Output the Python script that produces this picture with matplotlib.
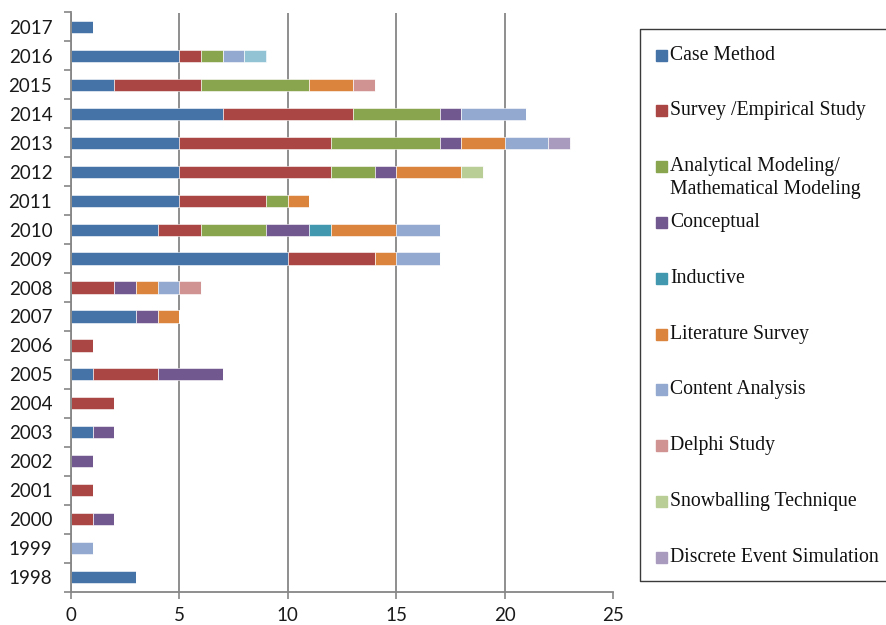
import matplotlib
matplotlib.use("Agg")
import numpy as np
import matplotlib.pyplot as plt
from matplotlib.patches import Rectangle
from matplotlib.lines import Line2D

years = [str(y) for y in range(1998, 2018)]

# one value per year, 1998 .. 2017
case_method = [3, 0, 0, 0, 0, 1, 0, 1, 0, 3, 0, 10, 4, 5, 5, 5, 7, 2, 5, 1]
survey = [0, 0, 1, 1, 0, 0, 2, 3, 1, 0, 2, 4, 2, 4, 7, 7, 6, 4, 1, 0]
analytical = [0, 0, 0, 0, 0, 0, 0, 0, 0, 0, 0, 0, 3, 1, 2, 5, 4, 5, 1, 0]
conceptual = [0, 0, 1, 0, 1, 1, 0, 3, 0, 1, 1, 0, 2, 0, 1, 1, 1, 0, 0, 0]
inductive = [0, 0, 0, 0, 0, 0, 0, 0, 0, 0, 0, 0, 1, 0, 0, 0, 0, 0, 0, 0]
literature = [0, 0, 0, 0, 0, 0, 0, 0, 0, 1, 1, 1, 3, 1, 3, 2, 0, 2, 0, 0]
content = [0, 1, 0, 0, 0, 0, 0, 0, 0, 0, 1, 2, 2, 0, 0, 2, 3, 0, 1, 0]
delphi = [0, 0, 0, 0, 0, 0, 0, 0, 0, 0, 1, 0, 0, 0, 0, 0, 0, 1, 0, 0]
snowballing = [0, 0, 0, 0, 0, 0, 0, 0, 0, 0, 0, 0, 0, 0, 1, 0, 0, 0, 0, 0]
discrete = [0, 0, 0, 0, 0, 0, 0, 0, 0, 0, 0, 0, 0, 0, 0, 1, 0, 0, 0, 0]
other = [0, 0, 0, 0, 0, 0, 0, 0, 0, 0, 0, 0, 0, 0, 0, 0, 0, 0, 1, 0]  # no legend entry

series = [case_method, survey, analytical, conceptual, inductive,
          literature, content, delphi, snowballing, discrete, other]
labels = ["Case Method", "Survey /Empirical Study",
          "Analytical Modeling/\nMathematical Modeling", "Conceptual",
          "Inductive", "Literature Survey", "Content Analysis",
          "Delphi Study", "Snowballing Technique", "Discrete Event Simulation"]
colors = ["#4572A7", "#AA4643", "#89A54E", "#71588F", "#4198AF",
          "#DB843D", "#93A9CF", "#D19392", "#B9CD96", "#A99BBD", "#92C3D4"]

W, H = 887, 625
fig = plt.figure(figsize=(W / 100, H / 100), dpi=100)
ax = fig.add_axes([71 / W, 1 - 591.5 / H, (613 - 71) / W, (591.5 - 12.5) / H])

y = np.arange(len(years))
left = np.zeros(len(years))
for vals, col in zip(series, colors):
    v = np.array(vals, dtype=float)
    ax.barh(y, v, left=left, height=0.42, color=col,
            edgecolor="white", linewidth=0.4)
    left += v

ax.set_xlim(0, 25)
ax.set_ylim(-0.5, len(years) - 0.5)
ax.set_xticks(range(0, 26, 5))
ax.set_yticks(y)
ax.set_yticklabels(years)
ax.set_yticks(np.arange(-0.5, len(years), 1), minor=True)
ax.tick_params(axis="y", which="major", length=0, pad=13.5)
ax.tick_params(axis="y", which="minor", length=5, color="#868686", width=1.2)
ax.tick_params(axis="x", length=5, color="#868686", width=1.2, pad=6)
for lab in ax.get_xticklabels() + ax.get_yticklabels():
    lab.set_fontfamily("Lato")
    lab.set_fontsize(13.5)
    lab.set_color("#1a1a1a")

ax.grid(axis="x", color="#868686", linewidth=1.3)
ax.xaxis.get_gridlines()[-1].set_visible(False)
ax.set_axisbelow(True)
for s in ["top", "right"]:
    ax.spines[s].set_visible(False)
for s in ["left", "bottom"]:
    ax.spines[s].set_color("#868686")
    ax.spines[s].set_linewidth(1.3)

# legend box (open on the right, cut by the image edge)
x0, x1 = 640 / W, 1.05
yt, yb = 1 - 29 / H, 1 - 581 / H
fig.add_artist(Line2D([x1, x0, x0, x1], [yt, yt, yb, yb],
                      transform=fig.transFigure, color="#3a3a3a", linewidth=1.0))
for i, (lab, col) in enumerate(zip(labels, colors)):
    yc = 55 + i * 55.8
    fig.patches.append(Rectangle((656 / W, 1 - (yc + 5.5) / H), 11 / W, 11 / H,
                                 transform=fig.transFigure, color=col))
    for j, line in enumerate(lab.split("\n")):
        fig.text(670 / W, 1 - (yc + 23 * j) / H, line, va="center", ha="left",
                 fontfamily="Liberation Serif", fontsize=14.2, color="#111111")

fig.savefig("out.png", dpi=100)
